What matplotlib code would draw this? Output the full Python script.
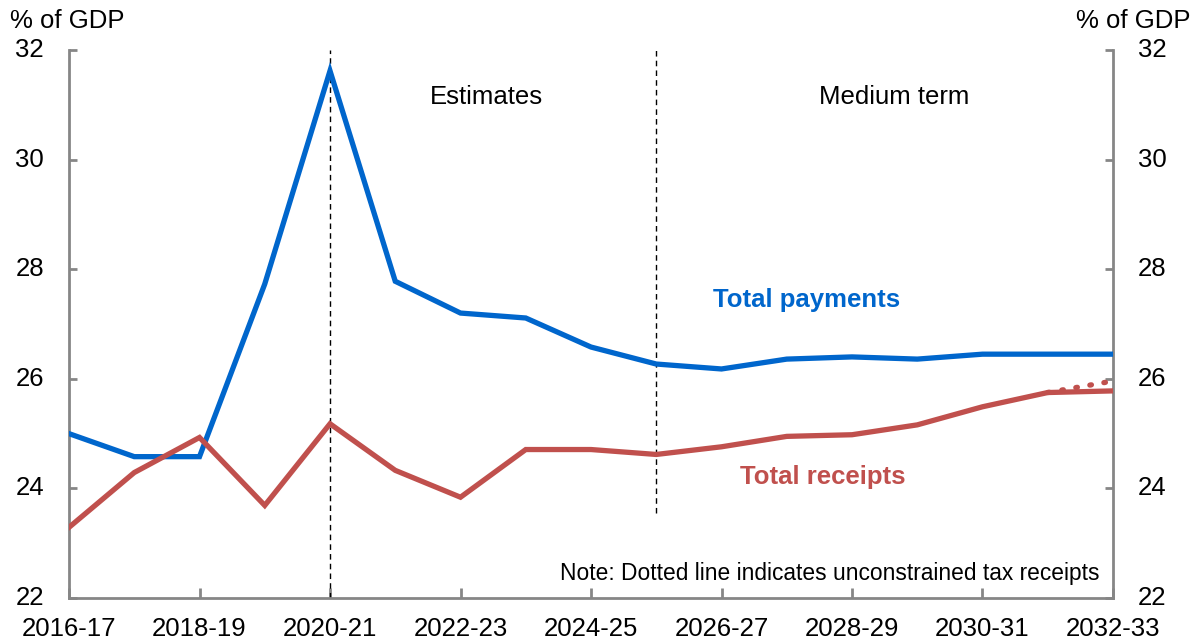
import matplotlib
matplotlib.use("Agg")
import matplotlib.pyplot as plt

plt.rcParams["font.family"] = ["Liberation Sans", "DejaVu Sans"]

years = ["2016-17", "2017-18", "2018-19", "2019-20", "2020-21", "2021-22",
         "2022-23", "2023-24", "2024-25", "2025-26", "2026-27", "2027-28",
         "2028-29", "2029-30", "2030-31", "2031-32", "2032-33"]
payments = [25.0, 24.58, 24.58, 27.73, 31.62, 27.78, 27.2, 27.11, 26.58,
            26.27, 26.18, 26.36, 26.4, 26.36, 26.45, 26.45, 26.45]
receipts = [23.29, 24.29, 24.93, 23.69, 25.18, 24.33, 23.84, 24.71, 24.71,
            24.62, 24.76, 24.95, 24.98, 25.16, 25.49, 25.75, 25.78]
unconstrained_years = ["2031-32", "2032-33"]
unconstrained = [25.75, 25.96]

BLUE = "#0066CC"
RED = "#C0504D"
GREY = "#868686"

x = list(range(len(years)))
ux = [years.index(y) for y in unconstrained_years]

fig = plt.figure(figsize=(11.96, 6.41), dpi=100)
ax = fig.add_axes([0.0577, 0.067, 0.8729, 0.855])

ax.plot(x, payments, color=BLUE, lw=3.8, solid_joinstyle="miter", zorder=3)
ax.plot(x, receipts, color=RED, lw=3.8, solid_joinstyle="miter", zorder=3)
ax.plot(ux, unconstrained, color=RED, lw=3.8, ls=(0, (0.3, 2.4)),
        dash_capstyle="round", zorder=3)

ax.axvline(years.index("2020-21"), color="black", lw=1, ls=(0, (4, 3)), zorder=2)
ax.plot([years.index("2025-26")] * 2, [23.55, 32], color="black", lw=1,
        ls=(0, (4, 3)), zorder=2)

ax.set_xlim(0, len(years) - 1)
ax.set_ylim(22, 32)
ax.set_yticks([22, 24, 26, 28, 30, 32])
ax.set_xticks(x[::2])
ax.set_xticklabels(years[::2])

ax.spines["top"].set_visible(False)
for s in ["left", "right", "bottom"]:
    ax.spines[s].set_color(GREY)
    ax.spines[s].set_linewidth(2)

ax.tick_params(axis="y", direction="in", length=6, width=2, color=GREY,
               labelsize=18.5, left=True, right=True, labelleft=True,
               labelright=True, pad=18)
ax.tick_params(axis="x", direction="in", length=7, width=2, color=GREY,
               labelsize=18.5, pad=14)
for lbl in ax.get_yticklabels():
    lbl.set_verticalalignment("center")

fig.text(0.008, 0.948, "% of GDP", fontsize=18.5, ha="left", va="bottom")
fig.text(0.995, 0.948, "% of GDP", fontsize=18.5, ha="right", va="bottom")

ax.text(6.4, 31.15, "Estimates", fontsize=18.5, ha="center", va="center")
ax.text(12.65, 31.15, "Medium term", fontsize=18.5, ha="center", va="center")
ax.text(11.3, 27.43, "Total payments", fontsize=18.5, color=BLUE,
        fontweight="bold", ha="center", va="center")
ax.text(11.55, 24.2, "Total receipts", fontsize=18.5, color=RED,
        fontweight="bold", ha="center", va="center")
ax.text(15.8, 22.45, "Note: Dotted line indicates unconstrained tax receipts",
        fontsize=16.4, ha="right", va="center")

fig.savefig("out.png", dpi=100)
